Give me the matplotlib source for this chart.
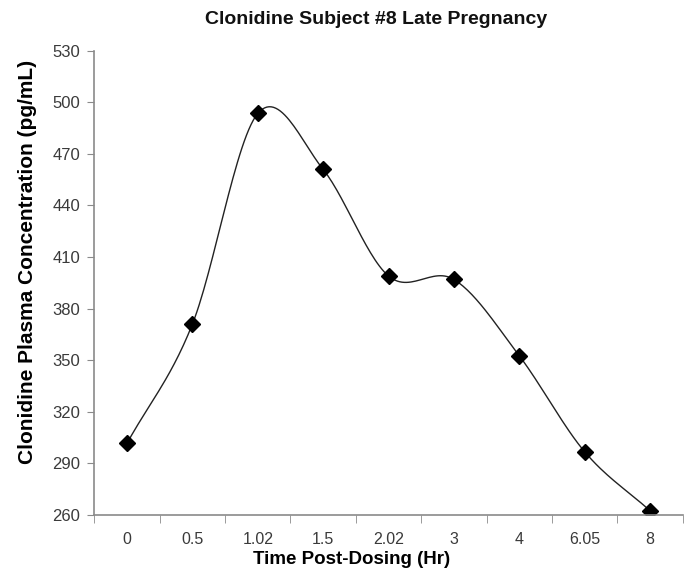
import numpy as np
import matplotlib
matplotlib.use("Agg")
import matplotlib.pyplot as plt

plt.rcParams['font.family'] = ['Liberation Sans', 'DejaVu Sans']

# data
times = ["0", "0.5", "1.02", "1.5", "2.02", "3", "4", "6.05", "8"]
conc = [301.7, 371, 493.5, 461, 399, 397, 352.6, 296.8, 262.5]


def catmull_rom(xs, ys, n=30):
    # Excel-like smoothed line (uniform Catmull-Rom)
    px = np.concatenate([[2 * xs[0] - xs[1]], xs, [2 * xs[-1] - xs[-2]]])
    py = np.concatenate([[2 * ys[0] - ys[1]], ys, [2 * ys[-1] - ys[-2]]])
    outx, outy = [], []
    t = np.linspace(0, 1, n)
    for i in range(1, len(px) - 2):
        for p, out in ((px, outx), (py, outy)):
            p0, p1, p2, p3 = p[i - 1], p[i], p[i + 1], p[i + 2]
            out.extend(0.5 * (2 * p1 + (-p0 + p2) * t
                              + (2 * p0 - 5 * p1 + 4 * p2 - p3) * t ** 2
                              + (-p0 + 3 * p1 - 3 * p2 + p3) * t ** 3))
    return np.array(outx), np.array(outy)


x = np.arange(len(times), dtype=float)
y = np.array(conc, dtype=float)
sx, sy = catmull_rom(x, y)

fig = plt.figure(figsize=(6.91, 5.75), dpi=100)
ax = fig.add_axes([0.1365, 0.1043, 0.8515, 0.8075])

ax.plot(sx, sy, color="#222222", lw=1.0)
ax.plot(x, y, linestyle="none", marker="D", ms=8, color="black")

ax.set_xlim(-0.5, len(times) - 0.5)
ax.set_ylim(260, 530)
ax.set_yticks(np.arange(260, 531, 30))
ax.set_xticks(x)
ax.set_xticklabels(times)
ax.set_xticks(np.arange(-0.5, len(times), 1.0), minor=True)

for s in ["top", "right"]:
    ax.spines[s].set_visible(False)
for s in ["left", "bottom"]:
    ax.spines[s].set_color("#8a8a8a")
    ax.spines[s].set_linewidth(1.2)

ax.tick_params(axis="y", direction="out", length=5, color="#8a8a8a",
               labelsize=12, labelcolor="#3a3a3a", pad=5)
ax.tick_params(axis="x", which="major", length=0, labelsize=11.5,
               labelcolor="#3a3a3a", pad=12)
ax.tick_params(axis="x", which="minor", direction="out", length=6,
               color="#8a8a8a")

fig.text(376 / 691, 1 - 19 / 575, "Clonidine Subject #8 Late Pregnancy",
         fontsize=14, fontweight="bold", ha="center", va="center",
         color="#111111")
ax.set_xlabel("Time Post-Dosing (Hr)", fontsize=13.5, fontweight="bold")
ax.xaxis.set_label_coords(0.438, -0.078)
ax.set_ylabel("Clonidine Plasma Concentration (pg/mL)", fontsize=15,
              fontweight="bold")
ax.yaxis.set_label_coords(-0.098, 0.545)

fig.savefig("out.png", dpi=100, facecolor="white")
